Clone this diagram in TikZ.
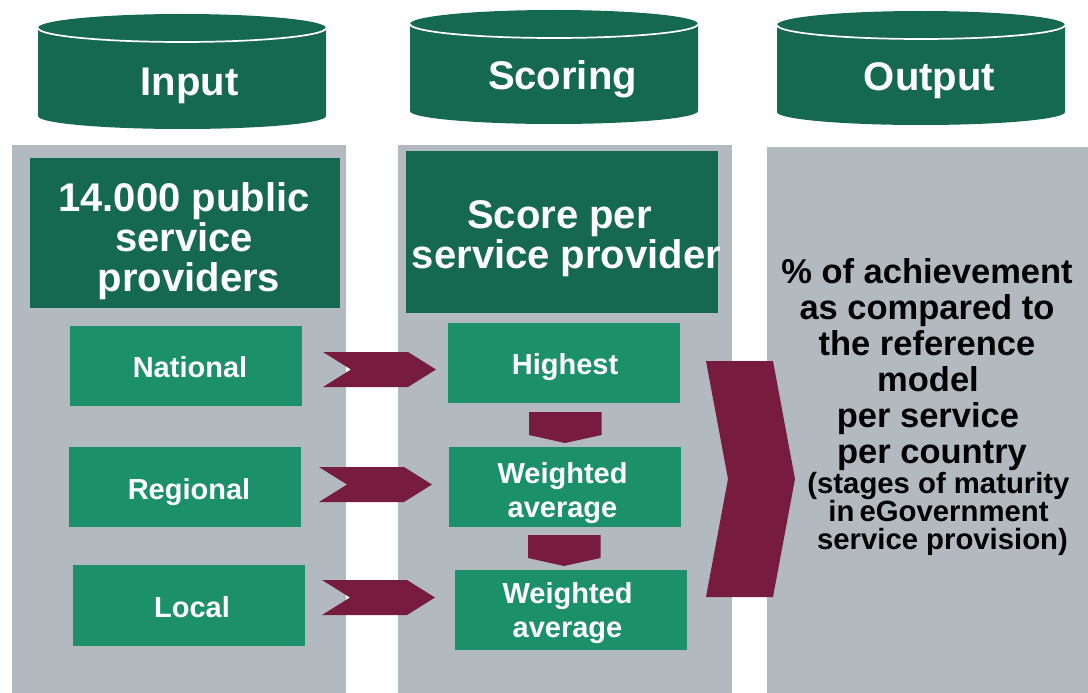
\documentclass[tikz,border=0pt]{standalone}
\usepackage{fontspec}
\setmainfont{Liberation Sans}
\definecolor{darkgreen}{HTML}{15694F}
\definecolor{lightgreen}{HTML}{1C9169}
\definecolor{panelgray}{HTML}{B2BABF}
\definecolor{wine}{HTML}{771C3E}
\newcommand{\fs}[2]{\fontsize{#1}{#2}\selectfont}
\tikzset{
  x=1pt,y=-1pt,
  panel/.style={fill=panelgray},
  darkbox/.style={fill=darkgreen},
  lightbox/.style={fill=lightgreen},
  chev/.style={fill=wine},
  boxtext/.style={text=white,align=center,inner sep=0pt},
  bigtext/.style={boxtext,font=\bfseries\fs{40}{40}},
  midtext/.style={boxtext,font=\bfseries\fs{29}{34}},
  resulttext/.style={text=black,align=center,inner sep=0pt,font=\bfseries\fs{34.5}{36}},
  maturitytext/.style={text=black,align=center,inner sep=0pt,font=\bfseries\fs{29.3}{28}},
}
% cylinder: #1 left x, #2 top of ellipse y, #3 centre of ellipse y, #4 body bottom y, #5 lowest y
\newcommand{\drum}[5]{%
  \fill[darkgreen] (#1,#3) arc[x radius=144,y radius=#3-#2,start angle=180,end angle=360]
    -- (#1+288,#4) arc[x radius=144,y radius=#5-#4,start angle=0,end angle=180] -- cycle;
  \draw[white,line width=1.7pt] (#1,#3) arc[x radius=144,y radius=#3-#2,start angle=180,end angle=0];
}
\newcommand{\rchev}[2]{% #1 left x, #2 top y
  \fill[chev] (#1,#2) -- (#1+85,#2) -- (#1+113,#2+17.5) -- (#1+85,#2+35) -- (#1,#2+35) -- (#1+28,#2+17.5) -- cycle;
}
\newcommand{\dchev}[2]{% #1 left x, #2 top y
  \fill[chev] (#1,#2) -- (#1+72.5,#2) -- (#1+72.5,#2+23) -- (#1+36,#2+31) -- (#1,#2+23) -- cycle;
}
\begin{document}
\begin{tikzpicture}
\useasboundingbox (0,0) rectangle (1088,693);
% panels
\fill[panel] (12,145) rectangle (346,693);
\fill[panel] (398,145) rectangle (732,693);
\fill[panel] (767,147) rectangle (1088,693);
% drums
\drum{38}{14}{28}{116}{129}
\drum{410}{10}{24}{111}{124}
\drum{777}{11}{25}{112}{125}
\node[bigtext] (input) at (189.5,86) {Input};
\node[bigtext] (scoring) at (562.5,79.5) {Scoring};
\node[bigtext] (output) at (929.5,80.5) {Output};
% dark boxes
\fill[darkbox] (30,158) rectangle (340,308);
\fill[darkbox] (406,151) rectangle (718,313);
\node[bigtext] (providers) at (184,241) {14.000 public\\service\\\hspace*{10pt}providers};
\node[bigtext] (score) at (566.5,239) {\hspace*{-14pt}Score per\\service provider};
% light boxes
\fill[lightbox] (70,326) rectangle (302,406);
\fill[lightbox] (69,447) rectangle (301,527);
\fill[lightbox] (73,565) rectangle (305,646);
\fill[lightbox] (448,323) rectangle (680,403);
\fill[lightbox] (449,447) rectangle (681,527);
\fill[lightbox] (455,570) rectangle (687,650);
\node[midtext] (national) at (190,367) {National};
\node[midtext] (regional) at (189,492) {Regional};
\node[midtext] (local) at (192,607) {Local};
\node[midtext] (highest) at (565,367) {Highest};
\node[midtext] (w1) at (562.5,493.5) {Weighted\\average};
\node[midtext] (w2) at (567.5,613.5) {Weighted\\average};
% chevrons
\rchev{323}{352}
\rchev{319}{467}
\rchev{322}{580}
\dchev{529}{412}
\dchev{528}{535}
\fill[chev] (706,361) -- (773,361) -- (795,479) -- (773,597) -- (706,597) -- (728,479) -- cycle;
% output text
\node[resulttext] (result) at (927,364.5) {\% of achievement\\as compared to\\the reference\\\hspace*{2pt}model\\\hspace*{2pt}per service\\\hspace*{10pt}per country};
\node[maturitytext] (maturity) at (938.5,513.5) {(stages of maturity\\in \kern-3pt eGovernment\\\hspace*{8pt}service provision)};
\end{tikzpicture}
\end{document}
